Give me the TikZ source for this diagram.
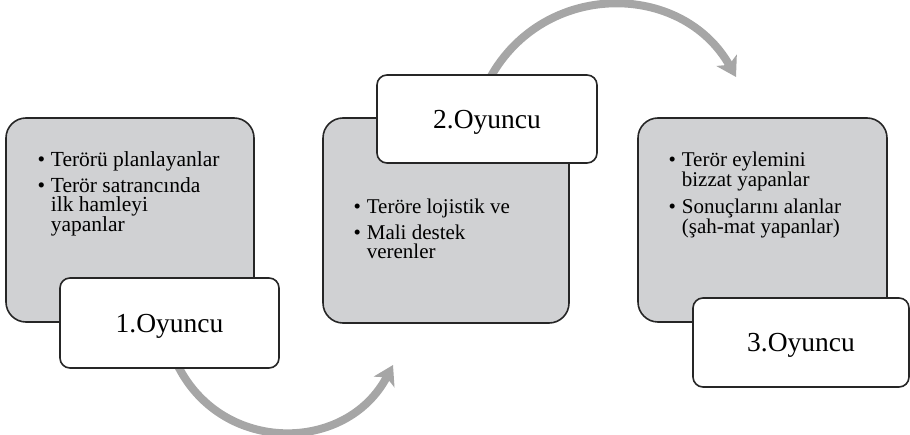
\documentclass[tikz,border=0pt]{standalone}
\usepackage{fontspec}
\setmainfont{Liberation Serif}
\usetikzlibrary{arrows.meta}
\definecolor{boxgrey}{HTML}{D0D1D3}
\definecolor{edgecol}{HTML}{262626}
\definecolor{arrowgrey}{HTML}{A6A6A6}
\newcommand\bitem[1]{\par\hangindent=13.35pt\hangafter=1\noindent\makebox[13.35pt][l]{\textbullet}#1\par}
\newcommand\blist[4]{\parbox[t]{240pt}{\fontsize{#1}{#2}\selectfont\lineskiplimit=-30pt\parindent=0pt\parskip=#3\relax #4}}
\tikzset{
  greybox/.style={rectangle, rounded corners=20pt, fill=boxgrey, draw=edgecol, line width=1.6pt, inner sep=0pt},
  whitebox/.style={rectangle, rounded corners=10pt, fill=white, draw=edgecol, line width=1.6pt, inner sep=0pt,
    font=\fontsize{27.5}{30}\selectfont, text depth=0pt},
  bullettext/.style={anchor=base west, inner sep=0pt},
  flowarrow/.style={draw=arrowgrey, line width=8pt, -{Stealth[length=19pt, width=23pt, inset=5pt]}}
}
\begin{document}
\begin{tikzpicture}[x=1pt, y=-1pt]
\useasboundingbox (0,0) rectangle (910,435);
% arrows (behind boxes)
\coordinate (a1s) at (178,366);
\coordinate (a1e) at (393,365);
\coordinate (a2s) at (490,78);
\coordinate (a2e) at (736,77);
\draw[flowarrow] (a1s) .. controls (223,455) and (347,453) .. (a1e);
\draw[flowarrow] (a2s) .. controls (544,-20) and (682,-19) .. (a2e);
% player 1
\node[greybox, minimum width=248pt, minimum height=204pt] (g1) at (130,220) {};
\node[whitebox, minimum width=219pt, minimum height=90pt] (w1) at (169.5,323) {1.Oyuncu};
\node[bullettext] (t1) at (37.3,166.7) {\blist{21.5}{19.4}{6.2pt}{%
\bitem{Terörü planlayanlar}
\bitem{Terör satrancında\\ilk hamleyi\\yapanlar}}};
% player 2
\node[greybox, minimum width=246pt, minimum height=205pt] (g2) at (446,220.5) {};
\node[whitebox, minimum width=220pt, minimum height=88pt] (w2) at (487,119) {2.Oyuncu};
\node[bullettext] (t2) at (353.3,214) {\blist{21}{19.3}{6pt}{%
\bitem{Teröre lojistik ve}
\bitem{Mali destek\\verenler}}};
% player 3
\node[greybox, minimum width=249pt, minimum height=204pt] (g3) at (762.5,220) {};
\node[whitebox, minimum width=216pt, minimum height=89pt] (w3) at (801,342.5) {3.Oyuncu};
\node[bullettext] (t3) at (668.3,167) {\blist{21}{19.5}{8pt}{%
\bitem{Terör eylemini\\bizzat yapanlar}
\bitem{Sonuçlarını alanlar\\(şah-mat yapanlar)}}};
\end{tikzpicture}
\end{document}
